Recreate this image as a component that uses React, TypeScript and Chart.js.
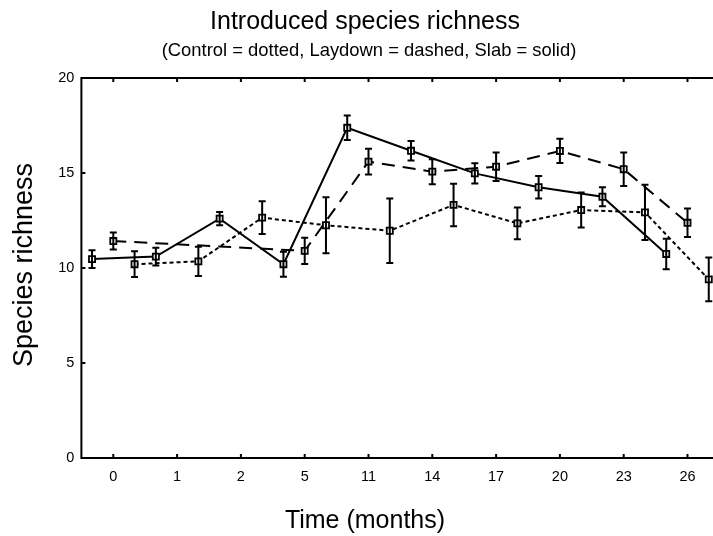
import React, { useEffect, useRef } from "react";
import { Chart, registerables } from "chart.js";

Chart.register(...registerables);

// ---- data ----
const months = ["0", "1", "2", "5", "11", "14", "17", "20", "23", "26"];
const slab = [10.47, 10.6, 12.6, 10.2, 17.38, 16.17, 14.98, 14.25, 13.75, 10.74];
const slabErr = [0.47, 0.47, 0.35, 0.66, 0.64, 0.51, 0.53, 0.59, 0.5, 0.8];
const laydown = [11.42, null, null, 10.9, 15.6, 15.07, 15.33, 16.16, 15.2, 12.38];
const laydownErr = [0.45, null, null, 0.69, 0.68, 0.66, 0.75, 0.64, 0.88, 0.75];
const control = [10.2, 10.35, 12.65, 12.25, 11.96, 13.32, 12.35, 13.05, 12.93, 9.4];
const controlErr = [0.68, 0.77, 0.86, 1.48, 1.7, 1.12, 0.84, 0.92, 1.45, 1.15];

const titleText = "Introduced species richness";
const subtitleText = "(Control = dotted, Laydown = dashed, Slab = solid)";
const xTitleText = "Time (months)";
const yTitleText = "Species richness";

const FONT = "'Liberation Sans', Arial, Helvetica, sans-serif";

const seriesList = [
  { name: "Slab", values: slab, errs: slabErr, offset: 0, dash: [] as number[] },
  { name: "Laydown", values: laydown, errs: laydownErr, offset: 1, dash: [13, 8] },
  { name: "Control", values: control, errs: controlErr, offset: 2, dash: [4, 3] },
];

const decor = {
  id: "decor",
  afterDatasetsDraw(chart: any) {
    const ctx = chart.ctx;
    const xs = chart.scales.x;
    const ys = chart.scales.y;
    ctx.save();
    ctx.strokeStyle = "#000";
    ctx.lineWidth = 2;
    seriesList.forEach((s) => {
      s.values.forEach((v, i) => {
        const e = s.errs[i];
        if (v == null || e == null) return;
        const px = xs.getPixelForValue(3 * i + s.offset);
        const top = ys.getPixelForValue(v + e);
        const bot = ys.getPixelForValue(v - e);
        ctx.beginPath();
        ctx.moveTo(px, top);
        ctx.lineTo(px, bot);
        ctx.moveTo(px - 3.5, top);
        ctx.lineTo(px + 3.5, top);
        ctx.moveTo(px - 3.5, bot);
        ctx.lineTo(px + 3.5, bot);
        ctx.stroke();
      });
    });
    ctx.restore();
  },
  afterDraw(chart: any) {
    const ctx = chart.ctx;
    const a = chart.chartArea;
    const xs = chart.scales.x;
    const ys = chart.scales.y;
    ctx.save();
    ctx.strokeStyle = "#000";
    ctx.lineWidth = 2;
    ctx.strokeRect(a.left, a.top, a.right - a.left, a.bottom - a.top);
    ctx.beginPath();
    xs.ticks.forEach((t: any) => {
      const px = xs.getPixelForValue(t.value);
      ctx.moveTo(px, a.bottom);
      ctx.lineTo(px, a.bottom - 4);
      ctx.moveTo(px, a.top);
      ctx.lineTo(px, a.top + 4);
    });
    ys.ticks.forEach((t: any) => {
      const py = ys.getPixelForValue(t.value);
      ctx.moveTo(a.left, py);
      ctx.lineTo(a.left + 4, py);
    });
    ctx.stroke();

    ctx.fillStyle = "#000";
    ctx.textAlign = "center";
    ctx.textBaseline = "alphabetic";
    ctx.font = `25px ${FONT}`;
    ctx.fillText(titleText, 365, 29);
    ctx.font = `18.4px ${FONT}`;
    ctx.fillText(subtitleText, 369, 56);
    ctx.font = `25px ${FONT}`;
    ctx.fillText(xTitleText, 365, 528);
    ctx.translate(32, 265);
    ctx.rotate(-Math.PI / 2);
    ctx.font = `27px ${FONT}`;
    ctx.fillText(yTitleText, 0, 0);
    ctx.restore();
  },
};

export default function App() {
  const ref = useRef<HTMLCanvasElement>(null);
  useEffect(() => {
    if (!ref.current) return;
    const chart = new Chart(ref.current, {
      type: "line",
      data: {
        datasets: seriesList.map((s) => ({
          label: s.name,
          data: s.values.map((v, i) => ({ x: 3 * i + s.offset, y: v })),
          borderColor: "#000",
          borderWidth: 2,
          borderDash: s.dash,
          spanGaps: true,
          tension: 0,
          fill: false,
          pointStyle: "rect",
          pointRadius: 4.3,
          pointBorderWidth: 1.8,
          pointBorderColor: "#000",
          pointBackgroundColor: "#fff",
        })) as any,
      },
      options: {
        animation: false,
        responsive: false,
        devicePixelRatio: 1,
        layout: { padding: { top: 78, right: 12.6, bottom: 0, left: 0 } },
        plugins: { legend: { display: false }, tooltip: { enabled: false }, title: { display: false } },
        scales: {
          x: {
            type: "linear",
            min: -0.5,
            max: 29.5,
            grid: { display: false, drawTicks: false },
            border: { display: false },
            afterBuildTicks: (s: any) => {
              s.ticks = months.map((_, i) => ({ value: 3 * i + 1 }));
            },
            afterFit: (s: any) => {
              s.height = 78;
            },
            ticks: {
              autoSkip: false,
              maxRotation: 0,
              padding: 10,
              color: "#000",
              font: { family: FONT, size: 14.5 },
              callback: (_v: any, idx: number) => months[idx],
            },
          },
          y: {
            type: "linear",
            min: 0,
            max: 20,
            grid: { display: false, drawTicks: false },
            border: { display: false },
            afterFit: (s: any) => {
              s.width = 81.4;
            },
            ticks: {
              stepSize: 5,
              padding: 7,
              color: "#000",
              font: { family: FONT, size: 14.5 },
            },
          },
        },
      } as any,
      plugins: [decor],
    });
    return () => chart.destroy();
  }, []);
  return (
    <div style={{ position: "fixed", left: 0, top: 0, width: 713, height: 536, overflow: "hidden", background: "#fff" }}>
      <canvas ref={ref} width={732} height={536} style={{ display: "block", width: 732, height: 536 }} />
    </div>
  );
}
